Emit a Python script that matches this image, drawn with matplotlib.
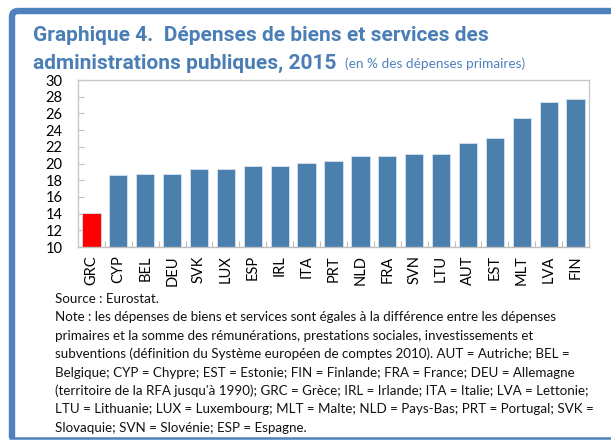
import matplotlib
matplotlib.use("Agg")
import matplotlib.pyplot as plt
from matplotlib.patches import Rectangle, FancyBboxPatch

plt.rcParams['font.family'] = ['Lato', 'DejaVu Sans']

countries = ["GRC", "CYP", "BEL", "DEU", "SVK", "LUX", "ESP", "IRL", "ITA", "PRT",
             "NLD", "FRA", "SVN", "LTU", "AUT", "EST", "MLT", "LVA", "FIN"]
values = [14.1, 18.6, 18.7, 18.8, 19.4, 19.4, 19.7, 19.7, 20.1, 20.3,
          20.9, 20.9, 21.1, 21.1, 22.4, 23.0, 25.5, 27.4, 27.7]
highlight = "GRC"
yticks = [10, 12, 14, 16, 18, 20, 22, 24, 26, 28, 30]

title_line1 = "Graphique 4.  Dépenses de biens et services des"
title_line2 = "administrations publiques, 2015"
subtitle = "(en % des dépenses primaires)"
notes = [
    "Source : Eurostat.",
    "Note : les dépenses de biens et services sont égales à la différence entre les dépenses",
    "primaires et la somme des rémunérations, prestations sociales, investissements et",
    "subventions (définition du Système européen de comptes 2010). AUT = Autriche; BEL =",
    "Belgique; CYP = Chypre; EST = Estonie; FIN = Finlande; FRA = France; DEU = Allemagne",
    "(territoire de la RFA jusqu'à 1990); GRC = Grèce; IRL = Irlande; ITA = Italie; LVA = Lettonie;",
    "LTU = Lithuanie; LUX = Luxembourg; MLT = Malte; NLD = Pays-Bas; PRT = Portugal; SVK =",
    "Slovaquie; SVN = Slovénie; ESP = Espagne.",
]

W, H = 611, 440
fig = plt.figure(figsize=(W / 100, H / 100), dpi=100)

# background/frame layer in pixel coordinates
bg = fig.add_axes([0, 0, 1, 1], zorder=-5)
bg.set_xlim(0, W)
bg.set_ylim(H, 0)
bg.axis("off")
frame_col = "#4F81BD"
bg.add_patch(FancyBboxPatch((12, 11), 700, 600, boxstyle="round,pad=0,rounding_size=6",
                            facecolor="none", edgecolor=frame_col, linewidth=4.6))
bg.add_patch(Rectangle((0, 438), W, 3, facecolor="white", edgecolor="none"))
bg.plot([9, W], [438.5, 438.5], color=frame_col, lw=1.8, solid_capstyle="butt")

title_col = "#4A7EB5"
tfam = ['Roboto', 'DejaVu Sans']
fig.text(33 / W, 1 - 41 / H, title_line1, fontsize=15.0, fontweight="bold", color=title_col,
         family=tfam)
fig.text(33 / W, 1 - 69 / H, title_line2, fontsize=15.0, fontweight="bold", color=title_col,
         family=tfam)
fig.text(345 / W, 1 - 68 / H, subtitle, fontsize=9.8, color="#4F81BD")

ax = fig.add_axes([78 / W, 1 - 247 / H, (589 - 78) / W, (247 - 80) / H])
colors = ["#FF0000" if c == highlight else "#4A7FAE" for c in countries]
ax.bar(range(len(countries)), values, width=0.68, bottom=0, color=colors,
       edgecolor="#D6E3EF", linewidth=0.6, zorder=2)
ax.set_xlim(-0.5, len(countries) - 0.5)
ax.set_ylim(10, 30)
ax.set_yticks(yticks)
ax.set_yticklabels([str(v) for v in yticks], fontsize=10.5)
ax.set_xticks([i + 0.5 for i in range(len(countries) - 1)])
ax.set_xticklabels([])
ax.set_xticks(range(len(countries)), minor=True)
ax.set_xticklabels(countries, minor=True, rotation=90, fontsize=10.5)
ax.tick_params(axis="x", which="minor", length=0, pad=6)
ax.tick_params(axis="x", which="major", direction="in", length=4, color="#BFBFBF")
ax.tick_params(axis="y", direction="in", length=4, color="#BFBFBF", pad=11)
for s in ax.spines.values():
    s.set_color("#C8C8C8")
    s.set_linewidth(1.0)
ax.spines["bottom"].set_color("#BFBFBF")

y0 = 303
for i, line in enumerate(notes):
    fig.text(55 / W, 1 - (y0 + i * 18.4) / H, line, fontsize=9.6, color="#111111", va="baseline")

fig.savefig("out.png", dpi=100)
